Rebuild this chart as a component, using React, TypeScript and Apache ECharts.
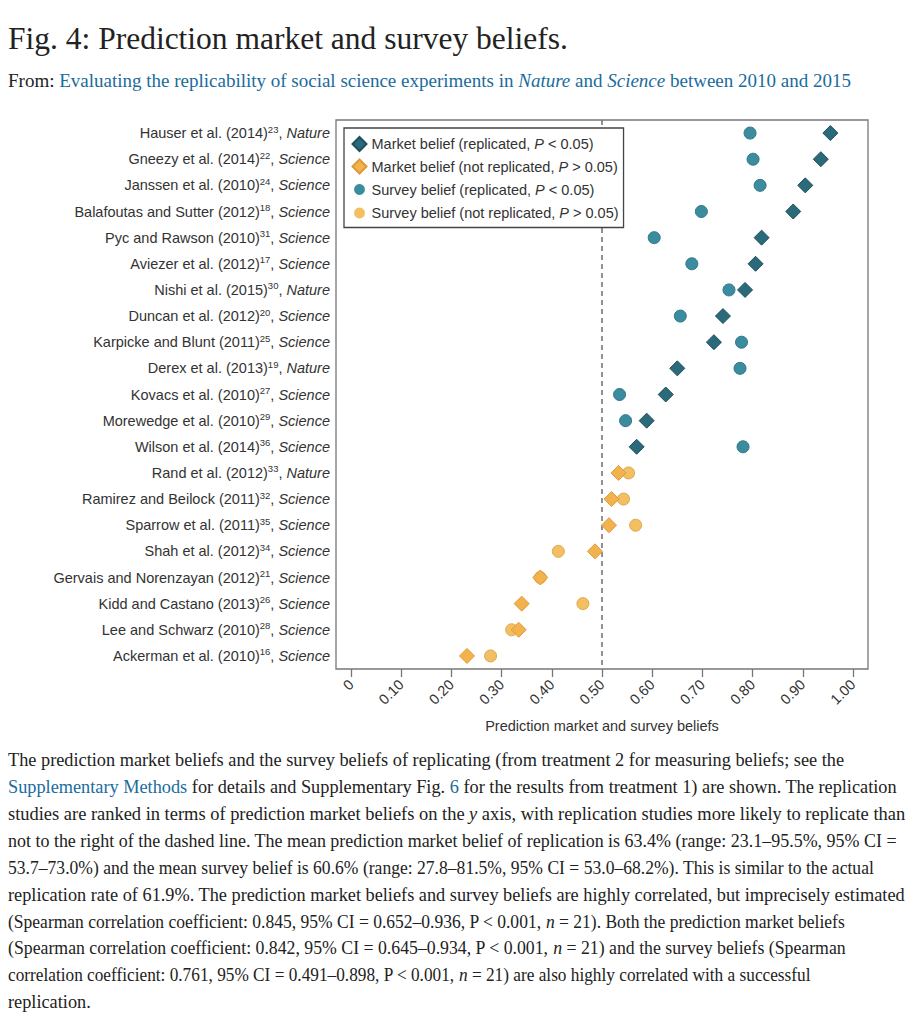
import React, { useEffect, useRef } from "react";
import * as echarts from "echarts";

const studies = [
  "Hauser et al. (2014)",
  "Gneezy et al. (2014)",
  "Janssen et al. (2010)",
  "Balafoutas and Sutter (2012)",
  "Pyc and Rawson (2010)",
  "Aviezer et al. (2012)",
  "Nishi et al. (2015)",
  "Duncan et al. (2012)",
  "Karpicke and Blunt (2011)",
  "Derex et al. (2013)",
  "Kovacs et al. (2010)",
  "Morewedge et al. (2010)",
  "Wilson et al. (2014)",
  "Rand et al. (2012)",
  "Ramirez and Beilock (2011)",
  "Sparrow et al. (2011)",
  "Shah et al. (2012)",
  "Gervais and Norenzayan (2012)",
  "Kidd and Castano (2013)",
  "Lee and Schwarz (2010)",
  "Ackerman et al. (2010)",
];
const refs = ["23", "22", "24", "18", "31", "17", "30", "20", "25", "19", "27", "29", "36", "33", "32", "35", "34", "21", "26", "28", "16"];
const journals = ["Nature", "Science", "Science", "Science", "Science", "Science", "Nature", "Science", "Science", "Nature", "Science", "Science", "Science", "Nature", "Science", "Science", "Science", "Science", "Science", "Science", "Science"];
const marketBelief = [0.955, 0.936, 0.905, 0.881, 0.818, 0.806, 0.785, 0.741, 0.723, 0.65, 0.627, 0.589, 0.569, 0.533, 0.519, 0.514, 0.486, 0.377, 0.34, 0.334, 0.231];
const surveyBelief = [0.795, 0.801, 0.815, 0.698, 0.604, 0.679, 0.753, 0.656, 0.778, 0.775, 0.535, 0.547, 0.781, 0.553, 0.543, 0.567, 0.413, 0.377, 0.462, 0.32, 0.278];
const replicated = [true, true, true, true, true, true, true, true, true, true, true, true, true, false, false, false, false, false, false, false, false];
const xTicks = [0, 0.1, 0.2, 0.3, 0.4, 0.5, 0.6, 0.7, 0.8, 0.9, 1.0];
const threshold = 0.5;

const seriesNames = {
  mRep: "Market belief (replicated, P < 0.05)",
  mNot: "Market belief (not replicated, P > 0.05)",
  sRep: "Survey belief (replicated, P < 0.05)",
  sNot: "Survey belief (not replicated, P > 0.05)",
};

const titleText = "Fig. 4: Prediction market and survey beliefs.";
const subtitleText =
  "{b|From: }{l|Evaluating the replicability of social science experiments in }{li|Nature}{l| and }{li|Science}{l| between 2010 and 2015}";
const captionLines = [
  "The prediction market beliefs and the survey beliefs of replicating (from treatment 2 for measuring beliefs; see the",
  "{l|Supplementary Methods} for details and Supplementary Fig. {l|6} for the results from treatment 1) are shown. The replication",
  "studies are ranked in terms of prediction market beliefs on the {i|y} axis, with replication studies more likely to replicate than",
  "not to the right of the dashed line. The mean prediction market belief of replication is 63.4% (range: 23.1\u201395.5%, 95% CI =",
  "53.7\u201373.0%) and the mean survey belief is 60.6% (range: 27.8\u201381.5%, 95% CI = 53.0\u201368.2%). This is similar to the actual",
  "replication rate of 61.9%. The prediction market beliefs and survey beliefs are highly correlated, but imprecisely estimated",
  "(Spearman correlation coefficient: 0.845, 95% CI = 0.652\u20130.936, P < 0.001, {i|n} = 21). Both the prediction market beliefs",
  "(Spearman correlation coefficient: 0.842, 95% CI = 0.645\u20130.934, P < 0.001, {i|n} = 21) and the survey beliefs (Spearman",
  "correlation coefficient: 0.761, 95% CI = 0.491\u20130.898, P < 0.001, {i|n} = 21) are also highly correlated with a successful",
  "replication.",
];
// horizontal fit of each caption line to the reference's line length
const captionScaleX = [1, 1, 1.008, 0.982, 0.961, 1, 0.958, 0.971, 0.944, 1];

const SANS = '"Liberation Sans", Arial, sans-serif';
const SERIF = '"Liberation Serif", "Times New Roman", serif';
const LINK = "#1a6c9c";
const FS = 14.5;

export default function App() {
  const ref = useRef<HTMLDivElement>(null);

  useEffect(() => {
    if (!ref.current) return;
    const chart = echarts.init(ref.current, null, { renderer: "svg" });

    const pick = (vals: number[], rep: boolean) =>
      vals.map((v, i) => (replicated[i] === rep ? [v, studies[i]] : null)).filter((d) => d !== null);

    const capFont = 18.3;
    const capRich = {
      l: { fill: LINK, fontFamily: SERIF, fontSize: capFont },
      i: { fill: "#222", fontFamily: SERIF, fontSize: capFont, fontStyle: "italic" },
    };
    const subFont = 19;

    const graphics: any[] = [
      {
        type: "text",
        x: 8,
        y: 38,
        style: {
          text: titleText,
          fontFamily: SERIF,
          fontSize: 31.5,
          fill: "#222",
          verticalAlign: "middle",
        },
      },
      {
        type: "text",
        x: 8,
        y: 80,
        style: {
          text: subtitleText,
          fontFamily: SERIF,
          fontSize: subFont,
          fill: "#222",
          verticalAlign: "middle",
          rich: {
            b: { fill: "#222", fontFamily: SERIF, fontSize: subFont },
            l: { fill: LINK, fontFamily: SERIF, fontSize: subFont },
            li: { fill: LINK, fontFamily: SERIF, fontSize: subFont, fontStyle: "italic" },
          },
        },
      },
      ...captionLines.map((t, i) => ({
        type: "text",
        x: 8,
        y: 760 + i * 26.9,
        scaleX: captionScaleX[i],
        style: {
          text: t,
          fontFamily: SERIF,
          fontSize: capFont,
          fill: "#222",
          verticalAlign: "middle",
          rich: capRich,
        },
      })),
    ];

    const legendFormatter = (name: string) => name.replace("P", "{i|P}");

    chart.setOption({
      animation: false,
      graphic: graphics,
      legend: {
        orient: "vertical",
        left: 344,
        top: 128,
        z: 20,
        padding: [8, 5, 6, 7],
        itemWidth: 14,
        itemHeight: 14,
        itemGap: 6.5,
        itemTextGap: 6,
        backgroundColor: "#fff",
        borderColor: "#444",
        borderWidth: 1.3,
        borderRadius: 0,
        selectedMode: false,
        formatter: legendFormatter,
        textStyle: {
          fontFamily: SANS,
          fontSize: FS,
          color: "#333",
          lineHeight: 15,
          rich: {
            i: { fontFamily: SANS, fontSize: FS, color: "#333", fontStyle: "italic", lineHeight: 15 },
          },
        },
        data: [
          { name: seriesNames.mRep, icon: "diamond" },
          { name: seriesNames.mNot, icon: "diamond" },
          { name: seriesNames.sRep, icon: "circle", itemStyle: { borderColor: "#fff", borderWidth: 3 } },
          { name: seriesNames.sNot, icon: "circle", itemStyle: { borderColor: "#fff", borderWidth: 3 } },
        ],
      },
      grid: {
        left: 336,
        top: 120,
        width: 532,
        height: 549,
        show: true,
        borderColor: "#777",
        borderWidth: 1.3,
        backgroundColor: "#fff",
        containLabel: false,
      },
      xAxis: {
        type: "value",
        min: -0.03,
        max: 1.03,
        axisLine: { show: false },
        splitLine: { show: false },
        axisTick: {
          show: true,
          length: 8,
          inside: false,
          customValues: xTicks,
          lineStyle: { color: "#777", width: 1.3 },
        },
        axisLabel: {
          customValues: xTicks,
          rotate: 45,
          margin: 13,
          fontFamily: SANS,
          fontSize: FS,
          color: "#333",
          formatter: (v: number) => (v === 0 ? "0" : v.toFixed(2)),
        },
        name: "Prediction market and survey beliefs",
        nameLocation: "middle",
        nameGap: 49,
        nameTextStyle: { fontFamily: SANS, fontSize: FS, color: "#333" },
      },
      yAxis: {
        type: "category",
        inverse: true,
        data: studies,
        axisLine: { show: false },
        axisTick: { show: false },
        splitLine: { show: false },
        axisLabel: {
          margin: 6,
          formatter: (_v: string, idx: number) =>
            `{n|${studies[idx]}}{s|${refs[idx]}}{n|, }{i|${journals[idx]}}`,
          rich: {
            n: { fontFamily: SANS, fontSize: FS, color: "#333", lineHeight: 18 },
            s: { fontFamily: SANS, fontSize: 9.5, color: "#333", lineHeight: 7, verticalAlign: "top" },
            i: { fontFamily: SANS, fontSize: FS, color: "#333", lineHeight: 18, fontStyle: "italic" },
          },
        },
      },
      series: [
        {
          name: seriesNames.sRep,
          type: "scatter",
          symbol: "circle",
          symbolSize: 12,
          data: pick(surveyBelief, true),
          itemStyle: { color: "#3b8c9e", borderColor: "#2f7687", borderWidth: 1, opacity: 1 },
          markLine: {
            silent: true,
            symbol: "none",
            z: 1,
            label: { show: false },
            lineStyle: { color: "#777", type: [5, 4], width: 1.6 },
            data: [{ xAxis: threshold }],
          },
          z: 2,
        },
        {
          name: seriesNames.sNot,
          type: "scatter",
          symbol: "circle",
          symbolSize: 12,
          data: pick(surveyBelief, false),
          itemStyle: { color: "#f2c062", borderColor: "#e0a84a", borderWidth: 1, opacity: 1 },
          z: 2,
        },
        {
          name: seriesNames.mRep,
          type: "scatter",
          symbol: "diamond",
          symbolSize: 15,
          data: pick(marketBelief, true),
          itemStyle: { color: "#2b6a7a", borderColor: "#1e4f5b", borderWidth: 1, opacity: 1 },
          z: 3,
        },
        {
          name: seriesNames.mNot,
          type: "scatter",
          symbol: "diamond",
          symbolSize: 15,
          data: pick(marketBelief, false),
          itemStyle: { color: "#f2b24d", borderColor: "#de9a38", borderWidth: 1, opacity: 1 },
          z: 3,
        },
      ],
    });

    return () => chart.dispose();
  }, []);

  return (
    <div
      ref={ref}
      style={{ position: "absolute", left: 0, top: 0, width: 913, height: 1024, background: "#fff" }}
    />
  );
}
